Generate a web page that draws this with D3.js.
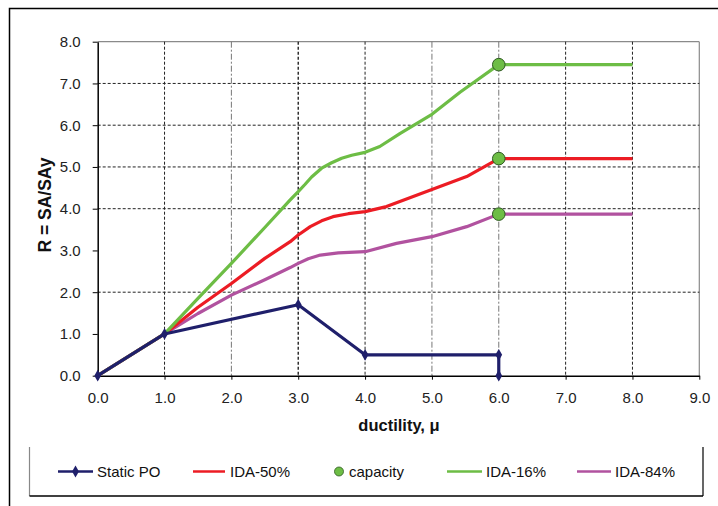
<!DOCTYPE html>
<html>
<head>
<meta charset="utf-8">
<script src="https://cdn.jsdelivr.net/npm/d3@7"></script>
<style>
  html, body { margin: 0; padding: 0; background: #fff; }
  svg { display: block; font-family: "Liberation Sans", Arial, sans-serif; }
</style>
</head>
<body>
<svg id="chart" width="718" height="506"></svg>
<script>
// Static pushover curve (with markers)
const staticMu = [0, 1, 3, 4, 6, 6];
const staticR  = [0, 1, 1.7, 0.5, 0.5, 0];

// IDA fractile curves
const ida16Mu = [0, 1, 1.5, 2, 2.5, 2.88, 3, 3.1, 3.2, 3.35, 3.5, 3.65, 3.8, 4, 4.22, 4.52, 5, 5.42, 6, 8];
const ida16R  = [0, 1, 1.85, 2.69, 3.55, 4.21, 4.41, 4.58, 4.76, 4.97, 5.1, 5.21, 5.28, 5.35, 5.49, 5.8, 6.26, 6.79, 7.45, 7.45];

const ida50Mu = [0, 1, 1.5, 2, 2.5, 2.88, 3, 3.18, 3.35, 3.52, 3.75, 4, 4.32, 5, 5.52, 6, 8];
const ida50R  = [0, 1, 1.64, 2.21, 2.81, 3.21, 3.37, 3.57, 3.71, 3.81, 3.88, 3.93, 4.05, 4.46, 4.77, 5.2, 5.2];

const ida84Mu = [0, 1, 1.5, 2, 2.5, 2.88, 3, 3.15, 3.33, 3.6, 4, 4.47, 5, 5.52, 6, 8];
const ida84R  = [0, 1, 1.49, 1.93, 2.3, 2.59, 2.69, 2.8, 2.89, 2.94, 2.97, 3.17, 3.33, 3.57, 3.87, 3.87];

// Capacity points
const capacityMu = [6, 6, 6];
const capacityR  = [7.45, 5.2, 3.87];

// Axis ticks
const xTicks = [0, 1, 2, 3, 4, 5, 6, 7, 8, 9];
const yTicks = [0, 1, 2, 3, 4, 5, 6, 7, 8];
const yGrid  = [2, 4, 5, 6, 7];

const legendLabels = ["Static PO", "IDA-50%", "capacity", "IDA-16%", "IDA-84%"];

const C = {
  navy: "#1f1f6b",
  red: "#ec1c24",
  green: "#6dbd45",
  magenta: "#b1529f"
};

const svg = d3.select("#chart");
const pLeft = 97.7, pRight = 699.3, pTop = 41.7, pBottom = 375.7;

const x = d3.scaleLinear().domain([0, 9]).range([pLeft, pRight]);
const y = d3.scaleLinear().domain([0, 8]).range([pBottom, pTop]);

// outer chart border
svg.append("rect")
  .attr("x", 9.5).attr("y", 8.5).attr("width", 740).attr("height", 520)
  .attr("fill", "none").attr("stroke", "#000").attr("stroke-width", 1.5);

// plot frame (top and right)
svg.append("line").attr("x1", pLeft).attr("x2", pRight).attr("y1", pTop).attr("y2", pTop)
  .attr("stroke", "#8a8a8a").attr("stroke-width", 1.2);
svg.append("line").attr("x1", pRight).attr("x2", pRight).attr("y1", pTop).attr("y2", pBottom)
  .attr("stroke", "#8a8a8a").attr("stroke-width", 1.2);

// gridlines
const gridV = svg.append("g");
xTicks.filter(d => d > 0 && d < 9).forEach(d => {
  const grey = (d === 2 || d === 5 || d === 6);
  gridV.append("line")
    .attr("x1", x(d)).attr("x2", x(d)).attr("y1", pTop).attr("y2", pBottom)
    .attr("stroke", grey ? "#777" : "#222")
    .attr("stroke-width", d === 3 ? 1.4 : 1)
    .attr("stroke-dasharray", grey ? "6,2,2,2" : "3,2");
});
const gridH = svg.append("g");
yGrid.forEach(d => {
  gridH.append("line")
    .attr("x1", pLeft).attr("x2", pRight).attr("y1", y(d)).attr("y2", y(d))
    .attr("stroke", "#222").attr("stroke-width", 1).attr("stroke-dasharray", "3,2");
});

// axes
const xAxis = svg.append("g").attr("transform", `translate(0,${pBottom})`)
  .call(d3.axisBottom(x).tickValues(xTicks).tickFormat(d3.format(".1f")).tickSizeInner(4).tickSizeOuter(0).tickPadding(13));
const yAxis = svg.append("g").attr("transform", `translate(${pLeft},0)`)
  .call(d3.axisLeft(y).tickValues(yTicks).tickFormat(d3.format(".1f")).tickSizeInner(5).tickSizeOuter(0).tickPadding(12));
[xAxis, yAxis].forEach(a => {
  a.select(".domain").attr("stroke", "#000").attr("stroke-width", 1.5);
  a.selectAll(".tick line").attr("stroke", "#000");
  a.selectAll(".tick text").attr("fill", "#222").attr("font-size", 15)
    .attr("font-family", "'Liberation Sans', Arial, sans-serif");
});
xAxis.selectAll(".tick text").attr("dy", "0.71em");

// axis titles
svg.append("text").attr("x", 399).attr("y", 431).attr("text-anchor", "middle")
  .attr("font-weight", "bold").attr("font-size", 16.5).attr("fill", "#111")
  .text("ductility, μ");
svg.append("text")
  .attr("transform", `translate(51,${205}) rotate(-90)`)
  .attr("text-anchor", "middle").attr("font-weight", "bold").attr("font-size", 17.5).attr("fill", "#111")
  .text("R = SA/SAy");

// series
const line = d3.line().x(d => x(d[0])).y(d => y(d[1]));
const zip = (a, b) => a.map((v, i) => [v, b[i]]);

const series = [
  { mu: ida84Mu, r: ida84R, color: C.magenta },
  { mu: ida50Mu, r: ida50R, color: C.red },
  { mu: ida16Mu, r: ida16R, color: C.green }
];
series.forEach(s => {
  svg.append("path").datum(zip(s.mu, s.r))
    .attr("d", line).attr("fill", "none").attr("stroke", s.color)
    .attr("stroke-width", 3.2).attr("stroke-linejoin", "round").attr("stroke-linecap", "butt");
});

const staticPts = zip(staticMu, staticR);
svg.append("path").datum(staticPts)
  .attr("d", line).attr("fill", "none").attr("stroke", C.navy)
  .attr("stroke-width", 3.2).attr("stroke-linejoin", "round");
const diamond = d3.symbol().type(d3.symbolDiamond).size(40);
svg.append("g").selectAll("path").data(staticPts).join("path")
  .attr("d", diamond).attr("transform", d => `translate(${x(d[0])},${y(d[1])})`)
  .attr("fill", C.navy);

// capacity points
svg.append("g").selectAll("circle").data(zip(capacityMu, capacityR)).join("circle")
  .attr("cx", d => x(d[0])).attr("cy", d => y(d[1])).attr("r", 6.3)
  .attr("fill", C.green).attr("stroke", "#2f5a22").attr("stroke-width", 1);

// legend frame
const lg = svg.append("g");
lg.append("line").attr("x1", 29.5).attr("x2", 29.5).attr("y1", 447).attr("y2", 496)
  .attr("stroke", "#888").attr("stroke-width", 1.2);
lg.append("line").attr("x1", 29.5).attr("x2", 703).attr("y1", 496).attr("y2", 496)
  .attr("stroke", "#000").attr("stroke-width", 1.5);
lg.append("line").attr("x1", 703).attr("x2", 703).attr("y1", 447).attr("y2", 496)
  .attr("stroke", "#000").attr("stroke-width", 1.2);

const ly = 471.5;
const legendItems = [
  { label: legendLabels[0], color: C.navy, kind: "marker", x0: 58, x1: 93, tx: 97 },
  { label: legendLabels[1], color: C.red, kind: "line", x0: 193, x1: 225, tx: 230 },
  { label: legendLabels[2], color: C.green, kind: "dot", x0: 339, x1: 339, tx: 349 },
  { label: legendLabels[3], color: C.green, kind: "line", x0: 447, x1: 482, tx: 486 },
  { label: legendLabels[4], color: C.magenta, kind: "line", x0: 577, x1: 611, tx: 615 }
];
legendItems.forEach(it => {
  if (it.kind === "dot") {
    lg.append("circle").attr("cx", it.x0).attr("cy", ly).attr("r", 4.5)
      .attr("fill", it.color).attr("stroke", "#2f5a22").attr("stroke-width", 0.8);
  } else {
    lg.append("line").attr("x1", it.x0).attr("x2", it.x1).attr("y1", ly).attr("y2", ly)
      .attr("stroke", it.color).attr("stroke-width", 2.5);
    if (it.kind === "marker") {
      lg.append("path").attr("d", diamond).attr("fill", it.color)
        .attr("transform", `translate(${(it.x0 + it.x1) / 2},${ly})`);
    }
  }
  lg.append("text").attr("x", it.tx).attr("y", ly).attr("dy", "0.36em")
    .attr("font-size", 15).attr("fill", "#111").text(it.label);
});
</script>
</body>
</html>
